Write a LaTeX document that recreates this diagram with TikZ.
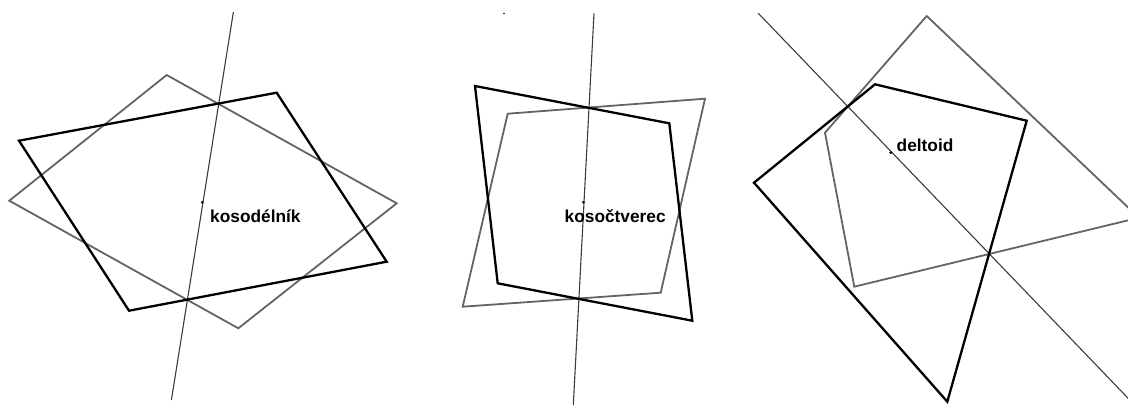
\documentclass[tikz,border=0pt]{standalone}
\usepackage{fontspec}
\setmainfont{Liberation Sans}
\definecolor{imgray}{RGB}{100,100,100}
\definecolor{axisgray}{RGB}{60,60,60}
\tikzset{
  orig/.style={draw=black, line width=2.3pt, line join=miter},
  img/.style={draw=imgray, line width=1.8pt, line join=miter},
  axisline/.style={draw=axisgray, line width=1.1pt},
  lbl/.style={anchor=west, inner sep=0pt, font=\fontsize{17.3}{18}\selectfont\bfseries},
  dotc/.style={fill=black, circle, inner sep=0pt, minimum size=3pt}
}
\begin{document}
\begin{tikzpicture}[x=1pt,y=-1pt]
\useasboundingbox (0,0) rectangle (1128,405);
\begin{scope}
\clip (0,0) rectangle (1128,405);
% ---------- panel 1: kosodelnik ----------
\coordinate (a1) at (233.4,12);
\coordinate (a2) at (171.4,400);
\draw[axisline] (a1) -- (a2);
\coordinate (A1) at (19,140.7);
\coordinate (B1) at (276.7,92.7);
\coordinate (C1) at (386.7,261.7);
\coordinate (D1) at (129,310.7);
\draw[img] (9.3,200.7) coordinate (E1) -- (166.7,75) coordinate (F1) -- (396.7,203.3) coordinate (G1) -- (238.3,328.3) coordinate (H1) -- cycle;
\draw[orig] (A1) -- (B1) -- (C1) -- (D1) -- cycle;
\node[dotc] (c1) at (202.3,202.3) {};
\node[lbl] (t1) at (210,216) {kosodélník};
% ---------- panel 2: kosoctverec ----------
\coordinate (a3) at (594,13.3);
\coordinate (a4) at (573.3,405);
\draw[axisline] (a3) -- (a4);
\coordinate (A2) at (475,86);
\coordinate (B2) at (669.3,123.3);
\coordinate (C2) at (692.3,320.7);
\coordinate (D2) at (497.7,283.3);
\coordinate (E2) at (507.7,113.7);
\coordinate (F2) at (705,98.7);
\coordinate (G2) at (660.7,292.7);
\coordinate (H2) at (462.7,306.7);
\draw[img] (E2) -- (F2) -- (G2) -- (H2) -- cycle;
\draw[orig] (A2) -- (B2) -- (C2) -- (D2) -- cycle;
\node[dotc] (c2) at (583.3,202.3) {};
\node[lbl] (t2) at (564.5,216.5) {kosočtverec};
\node[fill=black, circle, inner sep=0pt, minimum size=1.8pt] (s2) at (504,13.5) {};
% ---------- panel 3: deltoid ----------
\coordinate (a5) at (758.3,13.3);
\coordinate (a6) at (1136,406.5);
\draw[axisline] (a5) -- (a6);
\coordinate (A3) at (754,182.7);
\coordinate (B3) at (875,84.3);
\coordinate (C3) at (1026.7,120.7);
\coordinate (D3) at (947.3,401.7);
\coordinate (E3) at (926.7,16);
\coordinate (F3) at (825,132.7);
\coordinate (G3) at (854.3,286.7);
\coordinate (H3) at (1138.9,217.7);
\draw[img] (E3) -- (F3) -- (G3) -- (H3) -- cycle;
\draw[orig] (A3) -- (B3) -- (C3) -- (D3) -- cycle;
\node[dotc] (c3) at (890.7,152.7) {};
\node[lbl] (t3) at (896.5,145.5) {deltoid};
\end{scope}
\end{tikzpicture}
\end{document}
